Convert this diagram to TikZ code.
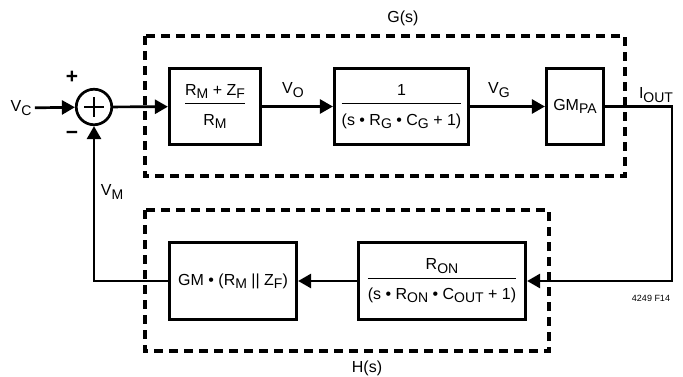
\documentclass[tikz,border=0pt]{standalone}
\usepackage{fontspec}
\setmainfont{Liberation Sans}
\usetikzlibrary{arrows.meta}
\newcommand{\sbs}[1]{\raisebox{-3.3pt}{\fontsize{14}{14}\selectfont #1}}
\newcommand{\blockfrac}[2]{$\displaystyle\frac{\mbox{#1}\rule[-6.5pt]{0pt}{0pt}}{\rule{0pt}{20.5pt}\mbox{#2}}$}

\begin{document}
\begin{tikzpicture}[x=1pt,y=-1pt,font=\fontsize{16}{19}\selectfont]
	\tikzstyle{block}=[draw,line width=2.7pt,minimum height=76.5pt,inner sep=0pt]
	\tikzstyle{conn}=[line width=2.7pt,-{Triangle[length=13pt,width=14pt]}]
	\tikzstyle{frame}=[line width=3.2pt,dash pattern=on 9pt off 6pt]
	\tikzstyle{sign}=[font=\fontsize{21}{21}\selectfont\bfseries]
	\useasboundingbox (0,0) rectangle (683,377);

	\draw[frame] (145,36) rectangle (625,176);
	\draw[frame] (145,210) rectangle (549,351);
	\node (gs) at (403,18) {G(s)};
	\node (hs) at (367,368) {H(s)};

	\node [circle,draw,line width=2.7pt,minimum size=35.5pt,inner sep=0pt] (sum) at (94,107) {};
	\draw[line width=2.7pt] (sum.center) ++(-10,0) -- ++(20,0) (sum.center) ++(0,-10) -- ++(0,20);
	\node [sign] (plus) at (72,77) {+};
	\node [sign] (minus) at (72,135) {−};

	\node [block,minimum width=91.5pt] (gain) at (215,106.5) {\blockfrac{R\sbs{M} + Z\sbs{F}}{R\sbs{M}}};
	\node [block,minimum width=134.5pt] (lag) at (401.5,106.5) {\blockfrac{1}{(s • R\sbs{G} • C\sbs{G} + 1)}};
	\node [block,minimum width=57.5pt] (gmpa) at (575,106.5) {GM\sbs{PA}};
	\node [block,minimum width=167.5pt] (filt) at (442,281) {\blockfrac{R\sbs{ON}}{(s • R\sbs{ON} • C\sbs{OUT} + 1)}};
	\node [block,minimum width=127.5pt] (sense) at (233,281) {GM • (R\sbs{M} || Z\sbs{F})};

	\node (vc) at (21,108) {V\sbs{C}};
	\node (vo) at (293,90) {V\sbs{O}};
	\node (vg) at (499,90) {V\sbs{G}};
	\node (iout) at (656,95) {I\sbs{OUT}};
	\node (vm) at (112,192) {V\sbs{M}};
	\node [font=\fontsize{9}{10}\selectfont] (fig) at (651,298) {4249 F14};

	\coordinate (rt) at (672,106.5);
	\coordinate (rb) at (672,281);
	\draw[conn] (vc) -- (sum);
	\draw[conn] (sum) -- (gain);
	\draw[conn] (gain) -- (lag);
	\draw[conn] (lag) -- (gmpa);
	\draw[conn] (gmpa) -- (rt) -- (rb) -- (filt);
	\draw[conn] (filt) -- (sense);
	\draw[conn] (sense) -| (sum);
\end{tikzpicture}
\end{document}
